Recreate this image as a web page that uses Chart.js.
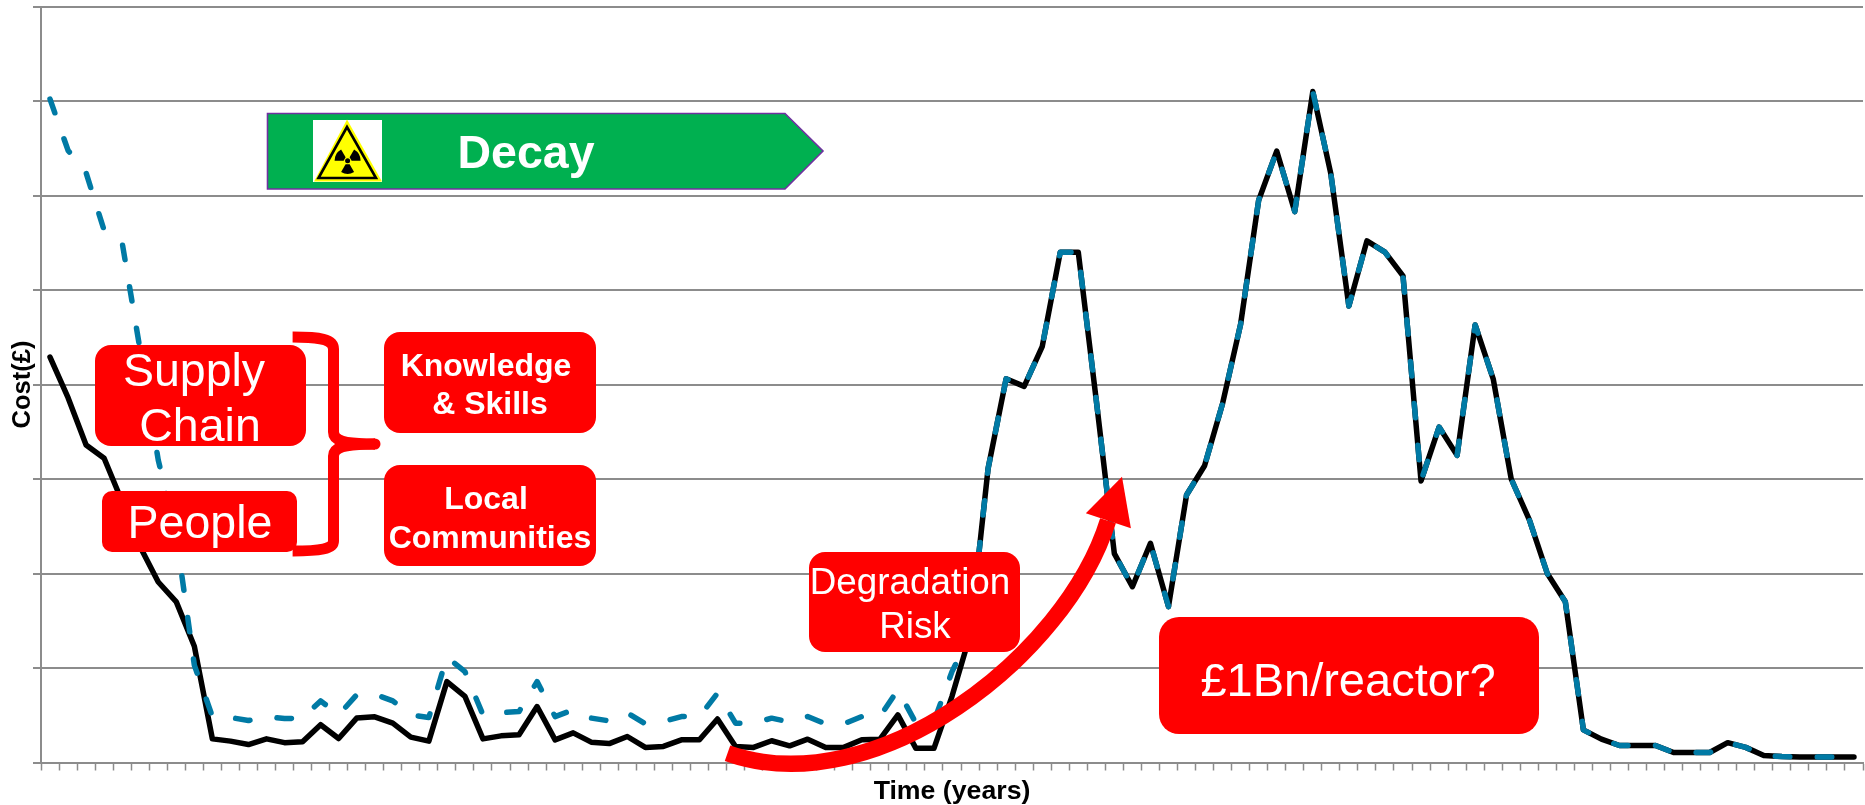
<!DOCTYPE html>
<html>
<head>
<meta charset="utf-8">
<script src="https://cdn.jsdelivr.net/npm/chart.js@4"></script>
<style>
html,body{margin:0;padding:0;background:#fff;overflow:hidden}
#wrap{position:relative;width:1865px;height:805px;font-family:"Liberation Sans",Arial,sans-serif}
#c{position:absolute;left:0;top:0}
#ov{position:absolute;left:0;top:0;pointer-events:none}
.box{position:absolute;background:#f00;border-radius:16px}
.t{position:absolute;color:#fff;white-space:nowrap;transform:translate(-50%,-50%);line-height:1}
.b{font-weight:bold}
</style>
</head>
<body>
<div id="wrap">
<canvas id="c" width="1865" height="805" style="width:1865px;height:805px"></canvas>
<div class="box" style="left:95px;top:345px;width:211px;height:101px"></div>
<div class="box" style="left:102px;top:491px;width:195px;height:61px;border-radius:10px"></div>
<div class="box" style="left:384px;top:332px;width:212px;height:101px"></div>
<div class="box" style="left:384px;top:465px;width:212px;height:101px"></div>
<div class="box" style="left:809px;top:552px;width:211px;height:100px"></div>
<div class="box" style="left:1159px;top:617px;width:380px;height:117px;border-radius:20px"></div>
<svg id="ov" width="1865" height="805" viewBox="0 0 1865 805">
  <polygon points="267.5,113.5 785,113.5 823,151 785,189 267.5,189" fill="#00B050" stroke="#7030A0" stroke-width="1.6"/>
  <rect x="313" y="120" width="69" height="62" fill="#fff"/>
  <polygon points="347,119.5 314,181.5 382,181.5" fill="#FFFF00"/>
  <polygon points="347,127 318.5,178 376,178" fill="#FFFF00" stroke="#000" stroke-width="2.6"/>
  <g fill="#000">
    <path d="M349.6 164.2 L354.1 172 A13 13 0 0 1 341.1 172 L345.6 164.2 Z"/>
    <path d="M343.6 160.7 L334.6 160.7 A13 13 0 0 1 341.1 149.4 L345.6 157.2 Z"/>
    <path d="M349.6 157.2 L354.1 149.4 A13 13 0 0 1 360.6 160.7 L351.6 160.7 Z"/>
    <circle cx="347.6" cy="160.7" r="2.5"/>
  </g>
  <g fill="none" stroke="#f00" stroke-width="11">
    <path d="M292.6 337 C320 337 333.5 339 333.5 349 L333.5 432 C333.5 440 342 444 375 444"/>
    <path d="M375 444 C342 444 333.5 448 333.5 456 L333.5 541 C333.5 549 320 551 292.6 551"/>
    <path d="M727.5 753.3 C875 805 1066 656 1108 520.7" stroke-width="16.5"/>
  </g>
  <circle cx="375" cy="444" r="5.5" fill="#f00"/>
  <polygon points="1122,476.7 1085.8,513.3 1130.9,528.3" fill="#f00"/>
</svg>
<div class="t b" style="left:526px;top:152px;font-size:46.5px">Decay</div>
<div class="t" style="left:194px;top:370px;font-size:46.5px">Supply</div>
<div class="t" style="left:200px;top:425px;font-size:46.5px">Chain</div>
<div class="t" style="left:200px;top:522px;font-size:46.5px">People</div>
<div class="t b" style="left:486px;top:365px;font-size:32px">Knowledge</div>
<div class="t b" style="left:490px;top:403px;font-size:32px">&amp; Skills</div>
<div class="t b" style="left:486px;top:498px;font-size:32px">Local</div>
<div class="t b" style="left:490px;top:537px;font-size:32px">Communities</div>
<div class="t" style="left:910px;top:582px;font-size:36.8px">Degradation</div>
<div class="t" style="left:915px;top:626px;font-size:36.8px">Risk</div>
<div class="t" style="left:1348px;top:679px;font-size:47px">£1Bn/reactor?</div>
</div>
<script>
const years = Array.from({length:101},(_,i)=>String(i+1));
const yTicks = [0,1,2,3,4,5,6,7,8];
const costLower = [4.29,3.86,3.36,3.22,2.76,2.28,1.91,1.70,1.23,.25,.226,.19,.25,.21,.22,.40,.254,.47,.483,.416,.268,.226,.856,.70,.25,.282,.293,.592,.24,.314,.215,.20,.275,.16,.17,.24,.24,.46,.17,.16,.23,.176,.247,.16,.16,.24,.245,.504,.15,.15,.70,1.35,3.11,4.06,3.98,4.40,5.40,5.40,3.83,2.21,1.86,2.32,1.65,2.83,3.14,3.80,4.64,5.95,6.47,5.83,7.10,6.23,4.83,5.52,5.40,5.15,2.98,3.55,3.25,4.63,4.06,3.0,2.57,2.0,1.70,.345,.247,.18,.18,.18,.106,.106,.106,.21,.16,.074,.063,.058,.058,.058,.058];
const costUpper = [7.02,6.477,6.24,5.63,5.50,4.36,3.2,2.4,1.03,.486,.476,.444,.486,.465,.47,.652,.504,.716,.723,.652,.504,.476,1.117,.962,.504,.528,.539,.856,.486,.557,.47,.44,.525,.409,.433,.486,.486,.733,.416,.416,.469,.43,.486,.409,.409,.486,.486,.769,.416,.433,.962,1.35,3.11,4.06,3.98,4.40,5.40,5.40,3.83,2.21,1.86,2.32,1.65,2.83,3.14,3.80,4.64,5.95,6.47,5.83,7.10,6.23,4.83,5.52,5.40,5.15,2.98,3.55,3.25,4.63,4.06,3.0,2.57,2.0,1.70,.345,.247,.18,.18,.18,.106,.106,.106,.21,.16,.074,.063,.058,.058,.058,.058];
const axisGrey = '#8c8c8c';
new Chart(document.getElementById('c'),{
  type:'line',
  data:{labels:years,datasets:[
    {label:'Lower',data:costLower,borderColor:'#000',borderWidth:5.5,pointRadius:0,tension:0,borderCapStyle:'round',borderJoinStyle:'round',order:2},
    {label:'Upper',data:costUpper,borderColor:'#007AA5',borderWidth:5.5,pointRadius:0,tension:0,borderDash:[14.5,27.5],borderCapStyle:'round',borderJoinStyle:'round',order:1}
  ]},
  options:{
    responsive:false,animation:false,devicePixelRatio:1,
    layout:{padding:{left:0,right:2,top:6.5,bottom:0}},
    plugins:{legend:{display:false},tooltip:{enabled:false}},
    scales:{
      x:{type:'category',offset:true,
        afterFit:s=>{s.height=42.5},
        grid:{display:true,offset:true,drawOnChartArea:false,drawTicks:true,tickLength:8,tickColor:axisGrey,tickWidth:1.5},
        border:{color:axisGrey,width:2},
        ticks:{display:false,autoSkip:false},
        title:{display:true,text:'Time (years)',color:'#000',font:{family:'"Liberation Sans"',size:26.7,weight:'bold',lineHeight:1},padding:{top:0,bottom:0}}
      },
      y:{min:0,max:8,
        afterFit:s=>{s.width=41},
        grid:{display:true,color:axisGrey,lineWidth:2,drawTicks:true,tickLength:8,tickColor:axisGrey,tickWidth:2},
        border:{color:axisGrey,width:2},
        ticks:{display:false,stepSize:1},
        title:{display:true,text:'Cost(£)',color:'#000',font:{family:'"Liberation Sans"',size:25.5,weight:'bold'},padding:{top:8,bottom:0}}
      }
    }
  }
});
</script>
</body>
</html>
